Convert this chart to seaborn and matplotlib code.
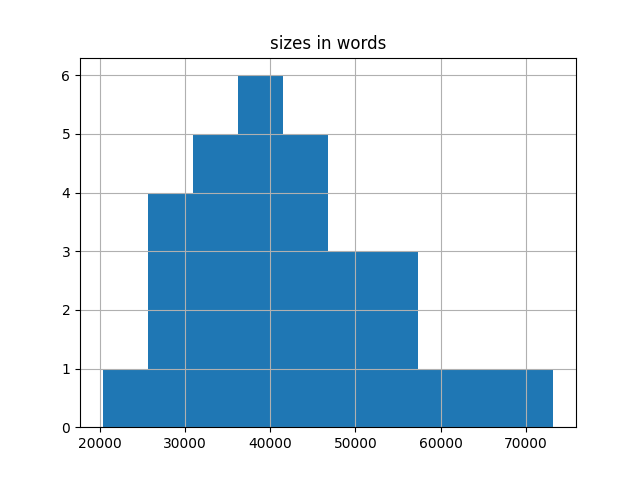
import matplotlib
matplotlib.use('Agg')
import matplotlib.pyplot as plt
import seaborn as sns

# bins (word counts), 10 equal bins
bin_edges = [20300, 25595, 30890, 36185, 41480, 46775, 52070, 57365, 62660, 67955, 73250]
bin_counts = [1, 4, 5, 6, 5, 3, 3, 1, 1, 1]
bin_mids = [(a + b) / 2 for a, b in zip(bin_edges[:-1], bin_edges[1:])]

fig, ax = plt.subplots(figsize=(6.4, 4.8), dpi=100)
sns.histplot(x=bin_mids, weights=bin_counts, bins=bin_edges, ax=ax,
             color='#1f77b4', alpha=1, linewidth=0)
ax.set_title('sizes in words')
ax.set_xlabel('')
ax.set_ylabel('')
ax.grid(True)
plt.savefig('out.png')
